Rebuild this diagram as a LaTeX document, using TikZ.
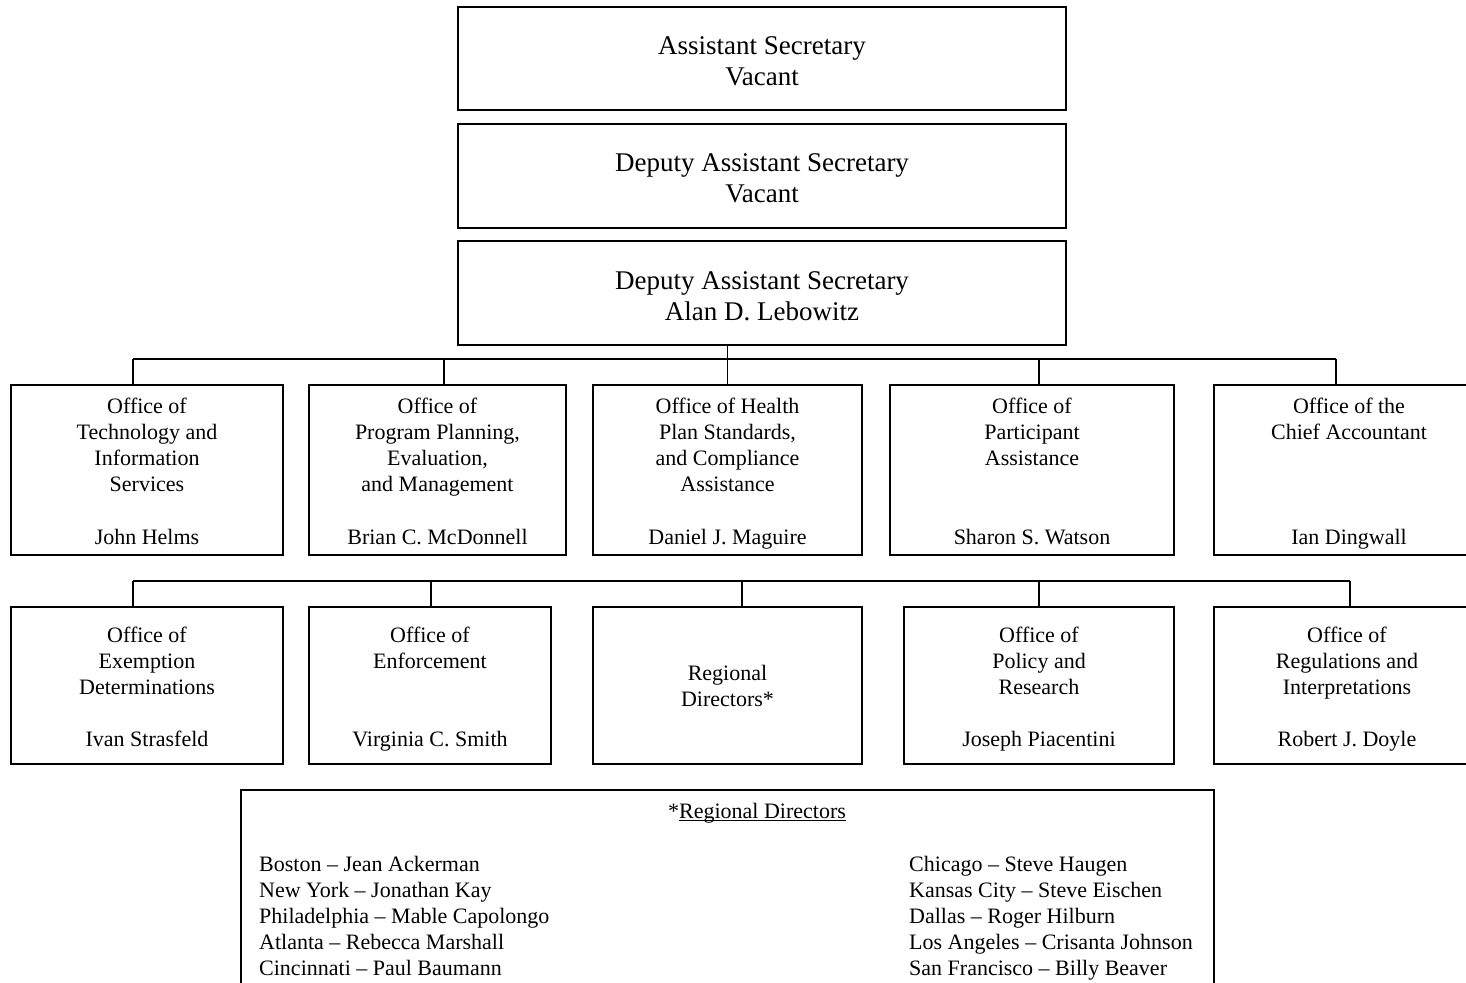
\documentclass[tikz,border=0pt]{standalone}
\usepackage{fontspec}
\setmainfont{Liberation Serif}
\newsavebox\ulbox
\newcommand\ulfix[1]{\sbox\ulbox{#1}\rlap{\rule[-2.5pt]{\wd\ulbox}{1pt}}\usebox\ulbox}
\begin{document}
\begin{tikzpicture}[x=1pt,y=-1pt,
  box/.style={draw, line width=1.3pt, rectangle, inner sep=0pt},
  ttl/.style={align=center, inner sep=0pt, font=\fontsize{22}{26}\selectfont, anchor=north},
  bigttl/.style={align=center, inner sep=0pt, font=\fontsize{27}{31}\selectfont, anchor=north},
  nm/.style={inner sep=0pt, font=\fontsize{22}{26}\selectfont, anchor=base},
  lst/.style={align=left, inner sep=0pt, font=\fontsize{22}{26}\selectfont, anchor=north west},
  conn/.style={line width=1.3pt}]
\useasboundingbox (0,0) rectangle (1466,982);
\clip (0,0) rectangle (1466,982);

% top boxes
\node[box, minimum width=608pt, minimum height=103pt] (as) at (762,58.5) {};
\node[box, minimum width=608pt, minimum height=104pt] (d1) at (762,176) {};
\node[box, minimum width=608pt, minimum height=104pt] (d2) at (762,293) {};
\node[bigttl] (as-t) at (762,32.3) {\strut Assistant Secretary\\Vacant};
\node[bigttl] (d1-t) at (762,149.3) {\strut Deputy Assistant Secretary\\Vacant};
\node[bigttl] (d2-t) at (762,267.3) {\strut Deputy Assistant Secretary\\Alan D. Lebowitz};

% row 1
\node[box, minimum width=272pt, minimum height=170pt] (r1a) at (147,470) {};
\node[box, minimum width=257pt, minimum height=170pt] (r1b) at (437.5,470) {};
\node[box, minimum width=269pt, minimum height=170pt] (r1c) at (727.5,470) {};
\node[box, minimum width=284pt, minimum height=170pt] (r1d) at (1032,470) {};
\node[box, minimum width=270pt, minimum height=170pt] (r1e) at (1349,470) {};

\node[ttl] (r1a-t) at (147,394.8) {\strut Office of\\Technology and\\Information\\Services};
\node[ttl] (r1b-t) at (437.5,394.8) {\strut Office of\\Program Planning,\\Evaluation,\\and Management};
\node[ttl] (r1c-t) at (727.5,394.8) {\strut Office of Health\\Plan Standards,\\and Compliance\\Assistance};
\node[ttl] (r1d-t) at (1032,394.8) {\strut Office of\\Participant\\Assistance};
\node[ttl] (r1e-t) at (1349,394.8) {\strut Office of the\\Chief Accountant};

\node[nm] (r1a-n) at (147,544) {John Helms};
\node[nm] (r1b-n) at (437.5,544) {Brian C. McDonnell};
\node[nm] (r1c-n) at (727.5,544) {Daniel J. Maguire};
\node[nm] (r1d-n) at (1032,544) {Sharon S. Watson};
\node[nm] (r1e-n) at (1349,544) {Ian Dingwall};

% row 2
\node[box, minimum width=272pt, minimum height=157pt] (r2a) at (147,685.5) {};
\node[box, minimum width=242pt, minimum height=157pt] (r2b) at (430,685.5) {};
\node[box, minimum width=269pt, minimum height=157pt] (r2c) at (727.5,685.5) {};
\node[box, minimum width=270pt, minimum height=157pt] (r2d) at (1039,685.5) {};
\node[box, minimum width=266pt, minimum height=157pt] (r2e) at (1347,685.5) {};

\node[ttl] (r2a-t) at (147,623.8) {\strut Office of\\Exemption\\Determinations};
\node[ttl] (r2b-t) at (430,623.8) {\strut Office of\\Enforcement};
\node[ttl] (r2c-t) at (727.5,661.8) {\strut Regional\\Directors*};
\node[ttl] (r2d-t) at (1039,623.8) {\strut Office of\\Policy and\\Research};
\node[ttl] (r2e-t) at (1347,623.8) {\strut Office of\\Regulations and\\Interpretations};

\node[nm] (r2a-n) at (147,746) {Ivan Strasfeld};
\node[nm] (r2b-n) at (430,746) {Virginia C. Smith};
\node[nm] (r2d-n) at (1039,746) {Joseph Piacentini};
\node[nm] (r2e-n) at (1347,746) {Robert J. Doyle};

% regional directors list box
\node[box, minimum width=973pt, minimum height=230pt] (rd) at (727.5,905) {};
\node[nm] (rd-h) at (757,818) {*\ulfix{Regional Directors}};
\node[lst] (rd-l) at (259,852.8) {\strut Boston -- Jean Ackerman\\New York -- Jonathan Kay\\Philadelphia -- Mable Capolongo\\Atlanta -- Rebecca Marshall\\Cincinnati -- Paul Baumann};
\node[lst] (rd-r) at (909,852.8) {\strut Chicago -- Steve Haugen\\Kansas City -- Steve Eischen\\Dallas -- Roger Hilburn\\Los Angeles -- Crisanta Johnson\\San Francisco -- Billy Beaver};

% connectors, level 1
\coordinate (b1a) at (133,359);
\coordinate (b1b) at (444,359);
\coordinate (b1c) at (727.5,359);
\coordinate (b1d) at (1039,359);
\coordinate (b1e) at (1336,359);
\draw[conn] (r1c.north |- d2.south) -- (r1c.north);
\draw[conn] (b1a) -- (b1e);
\draw[conn] (b1a) -- (b1a |- r1a.north);
\draw[conn] (b1b) -- (b1b |- r1b.north);
\draw[conn] (b1d) -- (b1d |- r1d.north);
\draw[conn] (b1e) -- (b1e |- r1e.north);

% connectors, level 2
\coordinate (b2a) at (133,581);
\coordinate (b2b) at (431,581);
\coordinate (b2c) at (742,581);
\coordinate (b2d) at (1039,581);
\coordinate (b2e) at (1350,581);
\draw[conn] (b2a) -- (b2e);
\draw[conn] (b2a) -- (b2a |- r2a.north);
\draw[conn] (b2b) -- (b2b |- r2b.north);
\draw[conn] (b2c) -- (b2c |- r2c.north);
\draw[conn] (b2d) -- (b2d |- r2d.north);
\draw[conn] (b2e) -- (b2e |- r2e.north);
\end{tikzpicture}
\end{document}
